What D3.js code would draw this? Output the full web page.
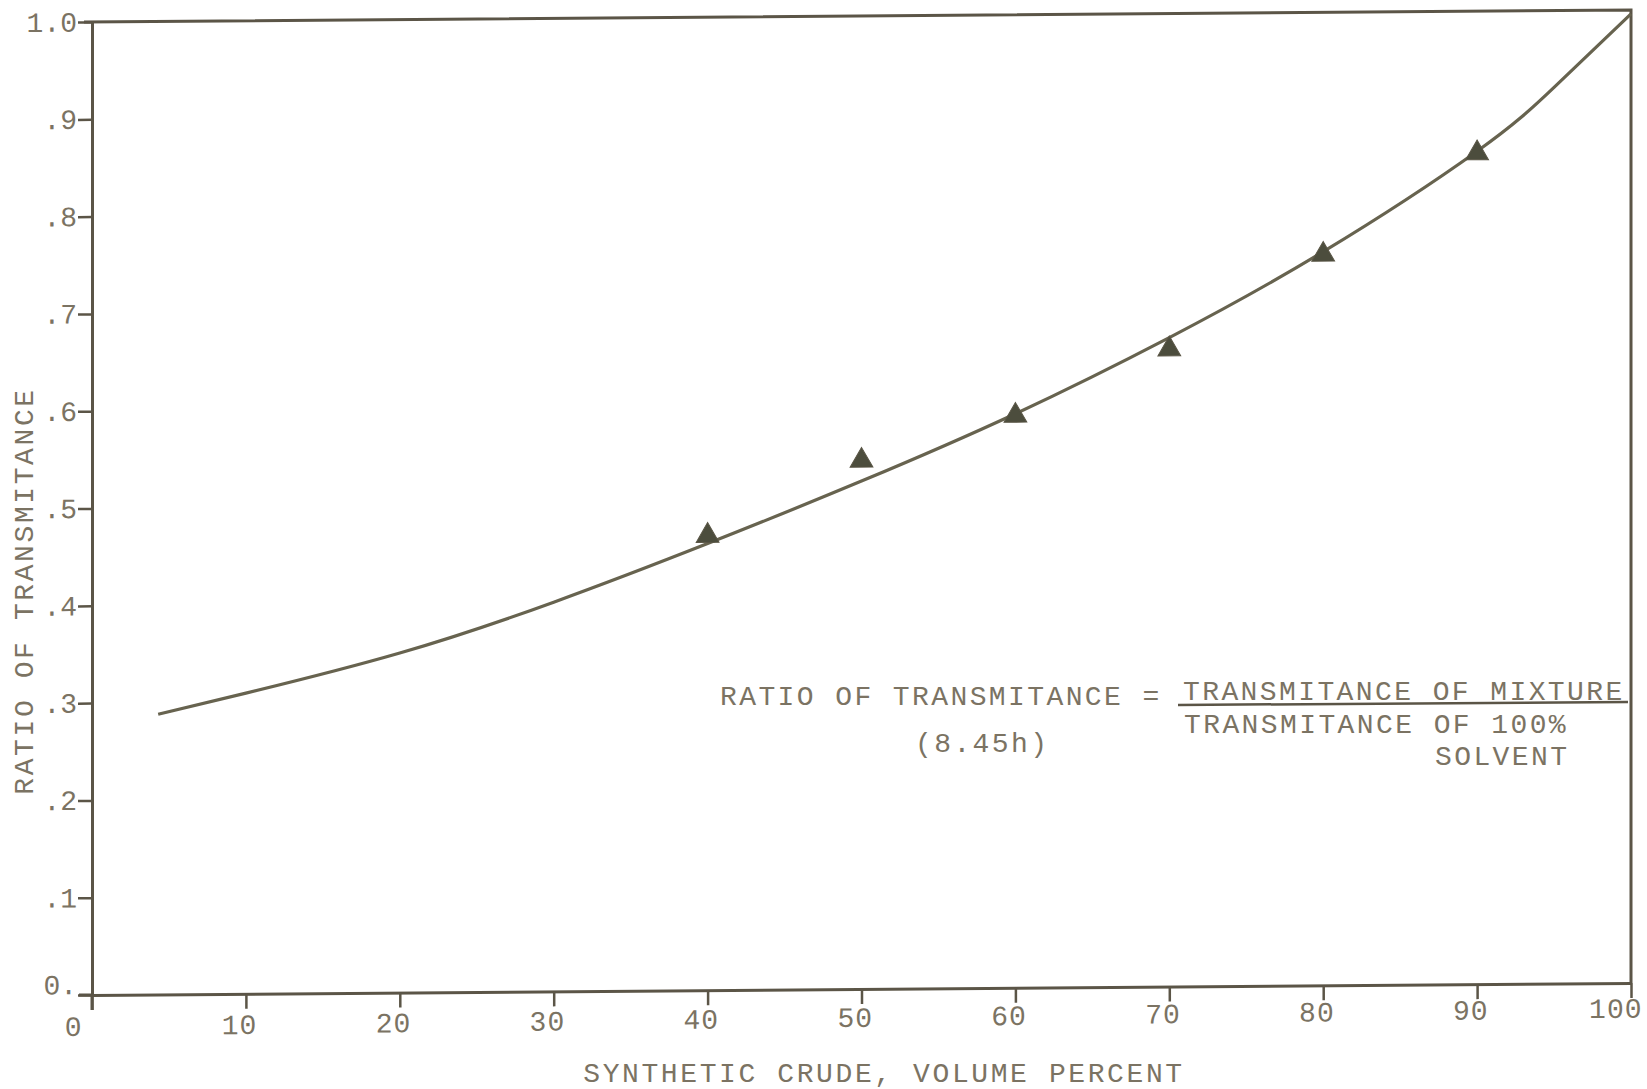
<!DOCTYPE html>
<html>
<head>
<meta charset="utf-8">
<script src="https://cdn.jsdelivr.net/npm/d3@7"></script>
<style>
  body { margin: 0; background: #ffffff; }
  text { font-family: "Liberation Mono", "DejaVu Sans Mono", monospace; fill: #7b7363; }
</style>
</head>
<body>
<div id="chart"></div>
<script>
// tick values + labels as typed on the original
const xTicks = [0, 10, 20, 30, 40, 50, 60, 70, 80, 90, 100];
const xTickLabels = ["0", "10", "20", "30", "40", "50", "60", "70", "80", "90", "100"];
const yTicks = [0, 0.1, 0.2, 0.3, 0.4, 0.5, 0.6, 0.7, 0.8, 0.9, 1.0];
const yTickLabels = ["0.", ".1", ".2", ".3", ".4", ".5", ".6", ".7", ".8", ".9", "1.0"];

// smooth curve
const curveX = [4.3, 10, 20, 30, 40, 50, 60, 70, 80, 90, 95, 100];
const curveY = [0.288, 0.309, 0.349, 0.400, 0.459, 0.522, 0.590, 0.667, 0.754, 0.856, 0.921, 0.996];

// measured points (triangles)
const pointX = [40, 50, 60, 70, 80, 90];
const pointY = [0.467, 0.543, 0.588, 0.655, 0.751, 0.854];

const W = 1647, H = 1089;
const plotLeft = 92, plotW = 1539, plotTop = 22, plotBottom = 995;
const ink = "#5b5547", txt = "#7b7363";

const svg = d3.select("#chart").append("svg")
  .attr("width", W).attr("height", H)
  .style("background", "#fff");

// the scan is slightly sheared, horizontal lines drop to the left
let g = svg.append("g")
  .attr("transform", `translate(${plotLeft},0) skewY(-0.45)`);

let x = d3.scaleLinear([0, 100], [0, plotW]);
let y = d3.scaleLinear([0, 1], [plotBottom, plotTop]);

// frame: top and right
g.append("path")
  .attr("d", `M${x(0) - 8},${y(1)} H${x(100)} V${y(0)}`)
  .attr("fill", "none").attr("stroke", ink).attr("stroke-width", 3);

// x axis
let xAxis = g.append("g")
  .attr("transform", `translate(0,${plotBottom})`)
  .call(d3.axisBottom(x).tickValues(xTicks).tickSize(15).tickSizeOuter(0)
    .tickFormat((d, i) => xTickLabels[i]));
xAxis.select(".domain").attr("stroke", ink).attr("stroke-width", 3);
xAxis.selectAll(".tick line").attr("stroke", ink).attr("stroke-width", 2.5);
xAxis.selectAll(".tick text")
  .attr("fill", txt)
  .style("font-size", "28px").style("letter-spacing", "1px")
  .attr("text-anchor", "end")
  .attr("x", d => d === 0 ? -10 : 11)
  .attr("y", d => 21 - d * 0.06).attr("dy", "0.71em");

// y axis
let yAxis = g.append("g")
  .call(d3.axisLeft(y).tickValues(yTicks).tickSize(14).tickSizeOuter(0).tickPadding(1)
    .tickFormat((d, i) => yTickLabels[i]));
yAxis.select(".domain").attr("stroke", ink).attr("stroke-width", 3);
yAxis.selectAll(".tick line").attr("stroke", ink).attr("stroke-width", 2.5);
yAxis.selectAll(".tick text")
  .attr("fill", txt)
  .style("font-size", "28px")
  .attr("dy", d => d === 0 ? "-0.05em" : "0.32em");
// the x axis line runs a bit past the y axis on the left
g.append("line")
  .attr("x1", -13).attr("x2", 0).attr("y1", plotBottom).attr("y2", plotBottom)
  .attr("stroke", ink).attr("stroke-width", 3);
g.append("line")
  .attr("x1", 0).attr("x2", 0).attr("y1", plotBottom).attr("y2", plotBottom + 15)
  .attr("stroke", ink).attr("stroke-width", 3);

// curve
let line = d3.line()
  .x((d, i) => x(curveX[i]))
  .y(d => y(d))
  .curve(d3.curveNatural);
g.append("path")
  .attr("d", line(curveY))
  .attr("fill", "none")
  .attr("stroke", "#67634f")
  .attr("stroke-width", 3.2);

// triangles
g.selectAll(".pt")
  .data(pointY)
  .join("path")
  .attr("class", "pt")
  .attr("transform", (d, i) => `translate(${x(pointX[i])},${y(d)})`)
  .attr("d", d3.symbol().type(d3.symbolTriangle).size(225))
  .attr("fill", "#4c4d3d")
  .attr("stroke", "#5a5646").attr("stroke-width", 1);

// axis titles
svg.append("text")
  .attr("x", 884).attr("y", 1082)
  .attr("text-anchor", "middle")
  .style("font-size", "28px").style("letter-spacing", "2.6px")
  .text("SYNTHETIC CRUDE, VOLUME PERCENT");

svg.append("text")
  .attr("transform", "translate(33,591) rotate(-90)")
  .attr("text-anchor", "middle")
  .style("font-size", "28px").style("letter-spacing", "2.6px")
  .text("RATIO OF TRANSMITANCE");

// definition note
let note = svg.append("g").style("font-size", "28px").style("letter-spacing", "2.4px");
note.append("text").attr("x", 720).attr("y", 705).text("RATIO OF TRANSMITANCE =");
note.append("text").attr("x", 1183).attr("y", 700).text("TRANSMITANCE OF MIXTURE");
note.append("text").attr("x", 1184).attr("y", 733).text("TRANSMITANCE OF 100%");
note.append("text").attr("x", 915).attr("y", 752).text("(8.45h)");
note.append("text").attr("x", 1435).attr("y", 765).text("SOLVENT");
svg.append("line")
  .attr("x1", 1178).attr("x2", 1628).attr("y1", 705).attr("y2", 702)
  .attr("stroke", ink).attr("stroke-width", 2.5);
</script>
</body>
</html>
